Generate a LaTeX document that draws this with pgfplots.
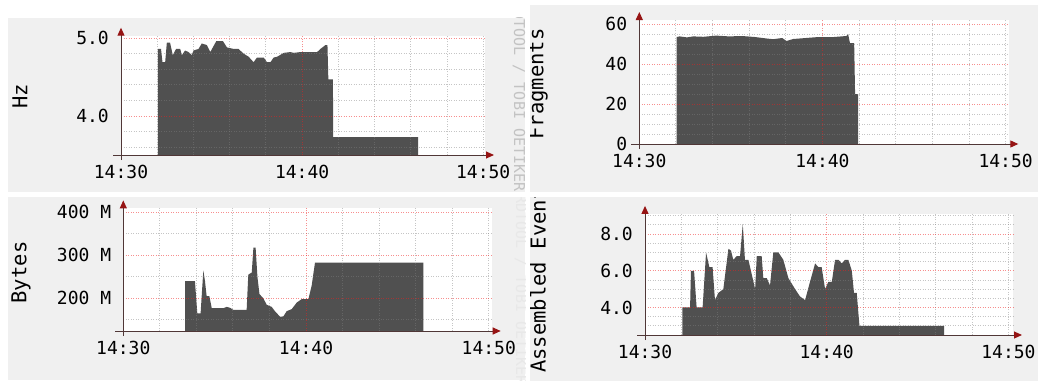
\documentclass[border=0pt]{standalone}
\usepackage{pgfplots}
\pgfplotsset{compat=1.18}
\usepackage{fontspec}
\setmainfont{DejaVu Sans Mono}
\usetikzlibrary{arrows.meta}
\definecolor{backc}{RGB}{240,240,240}
\definecolor{areac}{RGB}{80,80,80}
\definecolor{axisc}{RGB}{80,55,55}
\definecolor{arrowc}{RGB}{150,20,20}
\definecolor{wmc}{RGB}{195,195,195}
\definecolor{wmc2}{RGB}{232,232,232}
\definecolor{mgc}{RGB}{128,128,128}
\definecolor{Mgc}{RGB}{240,30,30}
\pgfplotsset{rrd/.style={
 scale only axis, anchor=south west,
 axis background/.style={fill=white},
 axis line style={draw=none},
 major tick length=0pt, minor tick length=0pt,
 xmin=0, xtick={0,10,20}, xticklabels={14:30,14:40,14:50},
 tick label style={font=\fontsize{18}{18}\selectfont, inner sep=0pt},
 xticklabel style={yshift=-10pt},
 yticklabel style={xshift=-12pt},
 /pgf/number format/assume math mode=true,
 clip=false,
}}
\tikzset{ax/.style={draw=axisc, line width=1pt, -{Triangle[length=8pt,width=7pt,color=arrowc]}},
 lab/.style={rotate=90, font=\fontsize{20.5}{22}\selectfont},
 wm/.style={rotate=-90, font=\fontsize{15}{15}\selectfont, text=wmc},
 mgrid/.style={draw=mgc, draw opacity=0.45, line width=0.9pt, dash pattern=on 1pt off 1.5pt},
 Mgrid/.style={draw=Mgc, draw opacity=0.5, line width=0.9pt, dash pattern=on 1pt off 1.5pt}}
% #1 minor y values, #2 major y values (x grid fixed: every 2 min, major at 10)
\newcommand\rrdgrid[2]{%
 \pgfplotsinvokeforeach{2,4,6,8,12,14,16,18,20}{\draw[mgrid] (axis cs:##1,\ymn) -- (axis cs:##1,\ymx);}%
 \pgfplotsinvokeforeach{#1}{\draw[mgrid] (axis cs:0,##1) -- (axis cs:\xmx,##1);}%
 \pgfplotsinvokeforeach{#2}{\draw[Mgrid] (axis cs:0,##1) -- (axis cs:\xmx,##1);}%
 \draw[Mgrid] (axis cs:10,\ymn) -- (axis cs:10,\ymx);%
}
\begin{document}
\begin{tikzpicture}
\useasboundingbox (0pt,0pt) rectangle (1038pt,381pt);
\fill[white] (0pt,0pt) rectangle (1038pt,381pt);
% ---------------- top left: Hz
\begin{scope}
\clip (8pt,189pt) rectangle (525pt,363pt);
\fill[backc] (8pt,189pt) rectangle (525pt,363pt);
\def\ymn{3.5}\def\ymx{5.03}\def\xmx{20.1}
\begin{axis}[rrd, name=a1, at={(121pt,226pt)}, width=364pt, height=119.3pt,
 xmax=20.1, ymin=3.5, ymax=5.03, ytick={4,5}, yticklabels={4.0,5.0}]
\addplot[fill=areac, draw=none] coordinates {
(2.03,3.5) (2.03,4.86) (2.21,4.86) (2.29,4.69) (2.44,4.69) (2.53,4.94) (2.71,4.94)
(2.86,4.78) (3.04,4.86) (3.27,4.86) (3.36,4.78) (3.54,4.84) (3.73,4.82) (3.91,4.78)
(4.00,4.84) (4.28,4.86) (4.46,4.93) (4.74,4.91) (4.93,4.82) (5.26,4.96) (5.63,4.96)
(5.85,4.88) (6.22,4.86) (6.49,4.86) (6.77,4.80) (7.05,4.76) (7.32,4.69) (7.51,4.75)
(7.88,4.75) (8.06,4.69) (8.25,4.69) (8.43,4.75) (8.62,4.76) (8.99,4.81) (9.35,4.82)
(9.54,4.81) (9.91,4.82) (10.83,4.82) (11.01,4.86) (11.29,4.91) (11.40,4.91)
(11.45,4.47) (11.70,4.47) (11.72,3.73) (16.40,3.73) (16.40,3.5)};
\rrdgrid{3.6,3.8,4.2,4.4,4.6,4.8}{4,5}
\end{axis}
\draw[ax] ([xshift=-8pt]a1.south west) -- ([xshift=9pt]a1.south east);
\draw[ax] ([yshift=-5pt]a1.south west) -- ([yshift=8pt]a1.north west);
\node[lab] at (20pt,284.5pt) {Hz};
\node[wm] at (519pt,289pt) {RRDTOOL / TOBI OETIKER};
\end{scope}
% ---------------- top right: Fragments
\begin{scope}
\clip (530pt,189pt) rectangle (1038pt,376pt);
\fill[backc] (530pt,189pt) rectangle (1038pt,376pt);
\def\ymn{0}\def\ymx{62}\def\xmx{20.2}
\begin{axis}[rrd, name=a2, at={(639.3pt,237pt)}, width=370pt, height=124pt,
 xmax=20.2, ymin=0, ymax=62, ytick={0,20,40,60}]
\addplot[fill=areac, draw=none] coordinates {
(2.04,0) (2.04,53.5) (2.2,53.8) (2.6,53.3) (2.95,53.8) (3.5,53.6) (4.2,54.2) (4.9,53.8)
(5.6,54) (6.3,53.5) (6.9,52.8) (7.31,52.4) (7.8,53) (8.04,51.5) (8.4,52.5) (9.1,53)
(9.8,53.5) (10.5,53.4) (11.31,54) (11.4,55) (11.5,50.5) (11.73,50.5) (11.78,25)
(11.95,25) (11.95,0)};
\rrdgrid{5,10,15,25,30,35,45,50,55}{20,40,60}
\end{axis}
\draw[ax] ([xshift=-8pt]a2.south west) -- ([xshift=9pt]a2.south east);
\draw[ax] ([yshift=-5pt]a2.south west) -- ([yshift=8pt]a2.north west);
\node[lab] at (538pt,297pt) {Fragments};
\end{scope}
% ---------------- bottom left: Bytes
\begin{scope}
\clip (8pt,1pt) rectangle (525pt,184pt);
\fill[backc] (8pt,1pt) rectangle (525pt,184pt);
\def\ymn{124}\def\ymx{409}\def\xmx{20.16}
\begin{axis}[rrd, name=a3, at={(123.3pt,50pt)}, width=368.4pt, height=122.6pt,
 xmax=20.16, ymin=124, ymax=409, ytick={200,300,400}, yticklabels={200 M,300 M,400 M}]
\addplot[fill=areac, draw=none] coordinates {
(3.38,124) (3.38,240) (3.92,240) (4.05,165) (4.23,165) (4.38,265) (4.47,240) (4.56,205)
(4.71,205) (4.84,177) (5.47,177) (5.66,180) (5.84,178) (6.02,173) (6.75,173) (6.84,255)
(7.03,260) (7.12,318) (7.24,318) (7.34,250) (7.45,210) (7.66,200) (7.85,185) (8.12,180)
(8.30,170) (8.58,157) (8.76,158) (8.94,170) (9.22,175) (9.49,190) (9.76,198) (10.13,198)
(10.31,230) (10.49,283) (16.42,283) (16.42,124)};
\rrdgrid{150,250,350}{200,300,400}
\end{axis}
\draw[ax] ([xshift=-8pt]a3.south west) -- ([xshift=9pt]a3.south east);
\draw[ax] ([yshift=-5pt]a3.south west) -- ([yshift=8pt]a3.north west);
\node[lab] at (21pt,108.5pt) {Bytes};
\node[wm, text=wmc2] at (521pt,96pt) {RRDTOOL / TOBI OETIKER};
\end{scope}
% ---------------- bottom right: Assembled Events
\begin{scope}
\clip (530pt,0pt) rectangle (1038pt,184pt);
\fill[backc] (530pt,0pt) rectangle (1038pt,184pt);
\def\ymn{2.5}\def\ymx{9.1}\def\xmx{20.25}
\begin{axis}[rrd, name=a4, at={(645pt,46pt)}, width=368pt, height=121.1pt,
 xmax=20.25, ymin=2.5, ymax=9.1, ytick={4,6,8}, yticklabels={4.0,6.0,8.0}]
\addplot[fill=areac, draw=none] coordinates {
(2.06,2.5) (2.06,4.0) (2.48,4.0) (2.53,6.0) (2.70,6.0) (2.84,4.0) (3.17,4.0) (3.36,7.0)
(3.54,6.2) (3.72,6.2) (3.85,4.4) (4.04,4.8) (4.31,5.0) (4.59,7.2) (4.73,7.1) (4.86,6.6)
(5.05,6.8) (5.23,6.8) (5.38,8.55) (5.50,6.6) (5.69,6.6) (6.06,5.0) (6.15,6.8) (6.42,6.8)
(6.51,5.6) (6.70,5.6) (6.88,5.2) (7.06,7.0) (7.34,7.0) (7.61,6.6) (7.89,5.6) (8.26,5.0)
(8.53,4.6) (8.81,4.4) (9.08,5.4) (9.36,6.4) (9.54,6.2) (9.72,6.2) (9.91,5.0) (10.09,5.4)
(10.28,5.4) (10.46,6.6) (10.64,6.6) (10.83,6.4) (11.01,6.6) (11.19,6.6) (11.38,6.0)
(11.50,4.8) (11.65,4.8) (11.80,3.0) (16.46,3.0) (16.46,2.5)};
\rrdgrid{3,3.5,4.5,5,5.5,6.5,7,7.5,8.5,9}{4,6,8}
\end{axis}
\draw[ax] ([xshift=-8pt]a4.south west) -- ([xshift=9pt]a4.south east);
\draw[ax] ([yshift=-5pt]a4.south west) -- ([yshift=8pt]a4.north west);
\node[lab] at (538pt,107pt) {Assembled Events};
\end{scope}
\end{tikzpicture}
\end{document}
